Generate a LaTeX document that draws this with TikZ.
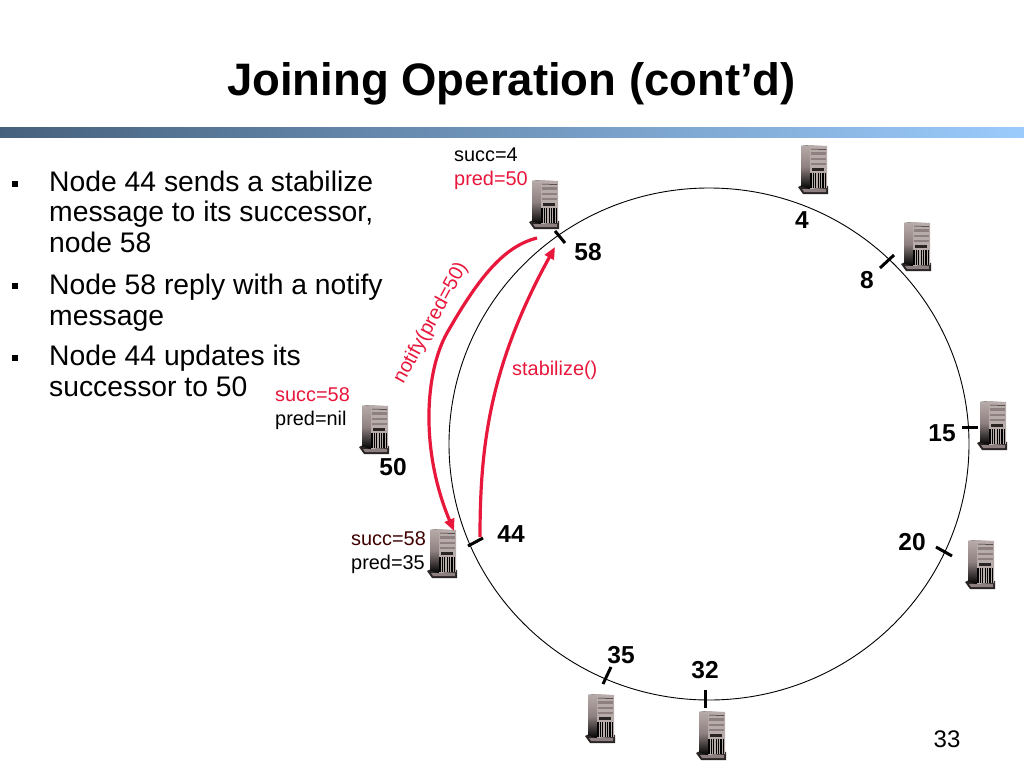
\documentclass[tikz,border=0pt]{standalone}
\usepackage{fontspec}
\usepackage{graphicx}
\setmainfont{Liberation Sans}
\usetikzlibrary{arrows.meta}
\definecolor{alert}{HTML}{E8173C}
\definecolor{srvlight}{HTML}{B8ACAA}
\definecolor{srvmid}{HTML}{8E8080}
\definecolor{srvdark}{HTML}{2A2424}
\tikzset{
 title/.style={font=\fontsize{45.5}{45.5}\selectfont\bfseries,inner sep=0pt},
 body/.style={font=\fontsize{28.3}{30.5}\selectfont,align=left,anchor=north west,inner sep=0pt},
 bullet/.style={fill=black,minimum size=5.5pt,inner sep=0pt},
 num/.style={font=\fontsize{24.5}{24.5}\selectfont\bfseries,inner sep=0pt},
 small/.style={font=\fontsize{19.9}{19.9}\selectfont,inner sep=0pt,anchor=west},
 tick/.style={line width=3pt},
 msg/.style={draw=alert,line width=3.2pt,-{Triangle[length=12pt,width=10pt]}},
 server/.pic={
  \fill[srvdark] (-15,18) -- (-10,25) -- (15,25) -- (15,17) -- (-9,15) -- cycle;
  \fill[srvmid] (-11,20) -- (-9,23) -- (13,23) -- (13,20) -- cycle;
  \fill[top color=srvlight,bottom color=black,middle color=srvmid] (-12,-23) -- (-3,-24) -- (-3,20) -- (-12,17) -- cycle;
  \fill[srvlight] (-3,-24) -- (14,-23) -- (14,19) -- (-3,20) -- cycle;
  \fill[srvmid] (-2,-17) rectangle (13,-14);
  \fill[srvmid] (-2,-11) rectangle (13,-9);
  \fill[srvmid] (-2,-6) rectangle (13,-4);
  \draw[srvdark,line width=.5pt] (-2,-20) -- (13,-19.5);
  \fill[srvdark] (-1,-1) rectangle (11,1.5);
  \foreach \i in {-2,0.4,...,13.5}{\draw[black,line width=1.1pt] (\i,4) -- (\i,19);}
 }
}
\begin{document}
\begin{tikzpicture}[x=1pt,y=-1pt]
\useasboundingbox (0,0) rectangle (1024,768);
\fill[white] (0,0) rectangle (1024,768);
\fill[left color={rgb,255:red,70;green,97;blue,125},right color={rgb,255:red,155;green,203;blue,252}] (0,127) rectangle (1024,137);
\node[title] (ttl) at (511.5,84) {Joining Operation (cont’d)};
\node[bullet] (b1) at (15,184) {};
\node[bullet] (b2) at (15,286) {};
\node[bullet] (b3) at (15,358) {};
\node[body] (t1) at (49,170.5) {Node 44 sends a stabilize\\message to its successor,\\node 58};
\node[body] (t2) at (49,274) {Node 58 reply with a notify\\message};
\node[body] (t3) at (49,345) {Node 44 updates its\\successor to 50};
\draw[line width=.9pt] (709,444) ellipse [x radius=260,y radius=256];
\foreach \x/\y in {544/204,813/169,916/246,992/425,980/564,711/735,600/718,442/553,374/429}
 \pic at (\x,\y) {server};
\draw[tick] (555,231) -- (565,243);
\draw[tick] (880,268) -- (894,255);
\draw[tick] (962,427) -- (978,427);
\draw[tick] (936,547) -- (952,556);
\draw[tick] (705,690) -- (705,708);
\draw[tick] (611,667) -- (603,684);
\draw[tick] (468,546) -- (483,538);
\node[num] (n58) at (588,252) {58};
\node[num] (n4) at (802,220) {4};
\node[num] (n8) at (867,280) {8};
\node[num] (n15) at (942,433) {15};
\node[num] (n20) at (912,542) {20};
\node[num] (n32) at (705,670) {32};
\node[num] (n35) at (621,655) {35};
\node[num] (n44) at (511,534) {44};
\node[num] (n50) at (393,467) {50};
\node[small] (s58a) at (454,155) {succ=4};
\node[small,text=alert] (s58b) at (454,180) {pred=50};
\node[small,text=alert] (s50a) at (275,395) {succ=58};
\node[small] (s50b) at (275,420) {pred=nil};
\node[small,text=black!75!red] (s44a) at (351,539) {succ=58};
\node[small] (s44b) at (351,564) {pred=35};
\node[small,text=alert] (stab) at (512,370) {stabilize()};
\node[small,anchor=center,text=alert] (noti) at (431,323) {\rotatebox{61.5}{notify(pred=50)}};
\node[font=\fontsize{24}{24}\selectfont,inner sep=0pt] (pg) at (947,739) {33};
\coordinate (a1) at (537,238);
\coordinate (a2) at (454,531);
\coordinate (b5) at (480,537);
\coordinate (b6) at (555,247);
\draw[msg] (a1) .. controls (505,246) and (480,275) .. (447,333) .. controls (425,372) and (420,450) .. (a2);
\draw[msg] (b5) .. controls (480,445) and (490,365) .. (b6);
\end{tikzpicture}
\end{document}
